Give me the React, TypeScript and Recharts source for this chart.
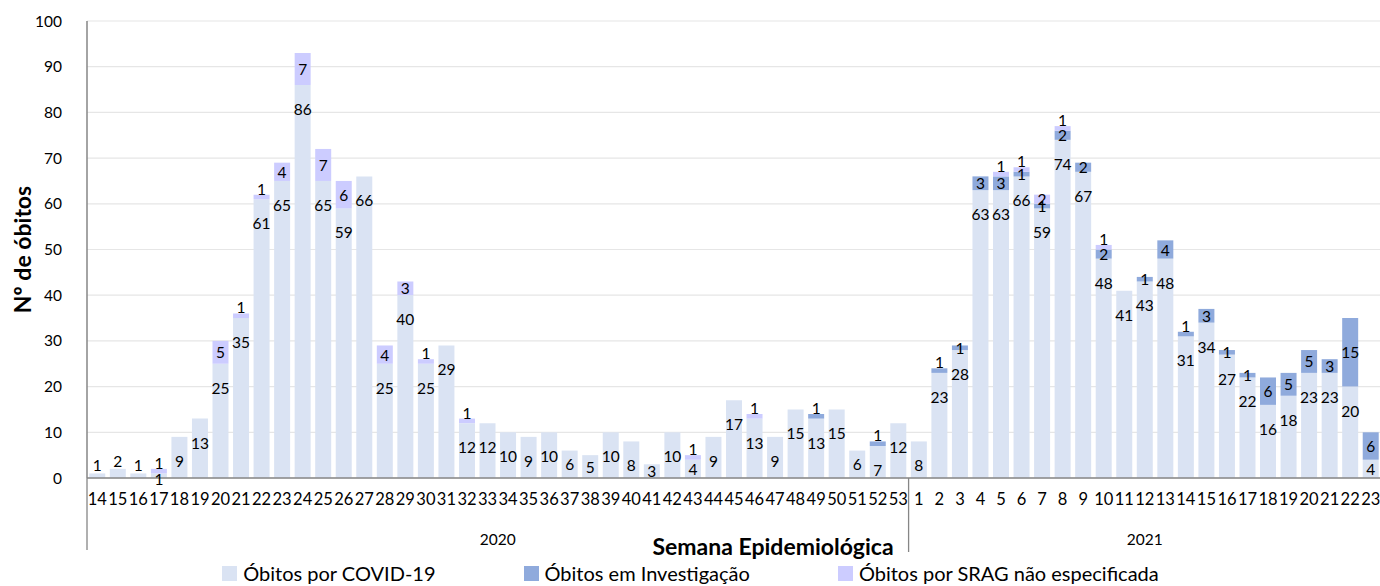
import React from "react";
import {
  BarChart,
  Bar,
  XAxis,
  YAxis,
  CartesianGrid,
  Legend,
  LabelList,
} from "recharts";

// semanas epidemiológicas
const weeks2020 = [
  "14", "15", "16", "17", "18", "19", "20", "21", "22", "23",
  "24", "25", "26", "27", "28", "29", "30", "31", "32", "33",
  "34", "35", "36", "37", "38", "39", "40", "41", "42", "43",
  "44", "45", "46", "47", "48", "49", "50", "51", "52", "53",
];
const weeks2021 = [
  "1", "2", "3", "4", "5", "6", "7", "8", "9", "10", "11", "12",
  "13", "14", "15", "16", "17", "18", "19", "20", "21", "22", "23",
];

const covid2020 = [
  1, 2, 1, 1, 9, 13, 25, 35, 61, 65, 86, 65, 59, 66, 25, 40, 25, 29, 12, 12,
  10, 9, 10, 6, 5, 10, 8, 3, 10, 4, 9, 17, 13, 9, 15, 13, 15, 6, 7, 12,
];
const invest2020 = [
  0, 0, 0, 0, 0, 0, 0, 0, 0, 0, 0, 0, 0, 0, 0, 0, 0, 0, 0, 0,
  0, 0, 0, 0, 0, 0, 0, 0, 0, 0, 0, 0, 0, 0, 0, 1, 0, 0, 1, 0,
];
const srag2020 = [
  0, 0, 0, 1, 0, 0, 5, 1, 1, 4, 7, 7, 6, 0, 4, 3, 1, 0, 1, 0,
  0, 0, 0, 0, 0, 0, 0, 0, 0, 1, 0, 0, 1, 0, 0, 0, 0, 0, 0, 0,
];

const covid2021 = [
  8, 23, 28, 63, 63, 66, 59, 74, 67, 48, 41, 43, 48, 31, 34, 27, 22, 16, 18,
  23, 23, 20, 4,
];
const invest2021 = [
  0, 1, 1, 3, 3, 1, 1, 2, 2, 2, 0, 1, 4, 1, 3, 1, 1, 6, 5, 5, 3, 15, 6,
];
const srag2021 = [
  0, 0, 0, 0, 1, 1, 2, 1, 0, 1, 0, 0, 0, 0, 0, 0, 0, 0, 0, 0, 0, 0, 0,
];

const yTicks = [0, 10, 20, 30, 40, 50, 60, 70, 80, 90, 100];

const weeks = [...weeks2020, ...weeks2021];
const covid = [...covid2020, ...covid2021];
const invest = [...invest2020, ...invest2021];
const srag = [...srag2020, ...srag2021];

const data = weeks.map((w, i) => ({
  key: `${i < weeks2020.length ? 2020 : 2021}-${w}`,
  covid: covid[i],
  invest: invest[i],
  srag: srag[i],
}));

const FONT = "Lato, 'Open Sans', sans-serif";
const C_COVID = "#DAE3F3";
const C_INV = "#8FAADC";
const C_SRAG = "#CCCCFF";
const AXIS = "#868686";

const CHART_W = 1381;
const CHART_H = 586;
const Y_W = 87;
const STEP = (CHART_W - Y_W) / weeks.length;

const labelText = (x: number, y: number, v: any) => (
  <text
    x={x}
    y={y}
    textAnchor="middle"
    dominantBaseline="central"
    fontFamily={FONT}
    fontSize={15.5}
    fill="#000"
  >
    {v}
  </text>
);

const box = (p: any) => {
  const vb = p.viewBox || {};
  return {
    x: p.x ?? vb.x,
    y: p.y ?? vb.y,
    w: p.width ?? vb.width,
    h: p.height ?? vb.height,
  };
};

const CovidLabel = (p: any) => {
  const { x, y, w, h } = box(p);
  const i = p.index;
  if (!p.value) return null;
  const cx = x + w / 2;
  const hasAbove = invest[i] + srag[i] > 0;
  let cy;
  // barras muito baixas: rótulo acima (ou sobre o eixo, se há outra série em cima)
  if (h < 12) cy = hasAbove ? y + h + 1 : y - 8;
  else if (h < 30) cy = y + h / 2;
  else cy = y + 24;
  return labelText(cx, cy, p.value);
};

const makeTopLabel = (isTop: (i: number) => boolean) => (p: any) => {
  const { x, y, w, h } = box(p);
  if (!p.value) return null;
  const cx = x + w / 2;
  const cy = p.value === 1 && isTop(p.index) ? y - 6 : y + h / 2;
  return labelText(cx, cy, p.value);
};

const InvLabel = makeTopLabel((i) => !srag[i]);
const SragLabel = makeTopLabel(() => true);

const WeekTick = (p: any) => {
  const { x, y, payload } = p;
  const i = payload.index;
  return (
    <g>
      <text
        x={x}
        y={y + 21}
        textAnchor="middle"
        dominantBaseline="central"
        fontFamily={FONT}
        fontSize={16.5}
        fill="#000"
      >
        {weeks[i]}
      </text>
      {i === 0 && (
        <line x1={x - STEP / 2} x2={x - STEP / 2} y1={y} y2={y + 72} stroke={AXIS} strokeWidth={1.3} />
      )}
      {i === weeks2020.length - 1 && (
        <line x1={x + STEP / 2} x2={x + STEP / 2} y1={y} y2={y + 74} stroke={AXIS} strokeWidth={1.3} />
      )}
      {i === weeks2020.length / 2 - 1 && (
        <text x={x + STEP / 2} y={y + 61} textAnchor="middle" dominantBaseline="central" fontFamily={FONT} fontSize={15.5} fill="#000">
          2020
        </text>
      )}
      {i === weeks2020.length + Math.floor(weeks2021.length / 2) && (
        <text x={x} y={y + 61} textAnchor="middle" dominantBaseline="central" fontFamily={FONT} fontSize={15.5} fill="#000">
          2021
        </text>
      )}
    </g>
  );
};

const legendItems = [
  { name: "Óbitos por COVID-19", color: C_COVID },
  { name: "Óbitos em Investigação", color: C_INV },
  { name: "Óbitos por SRAG não especificada", color: C_SRAG },
];

const ChartLegend = () => (
  <div
    style={{
      height: 26,
      display: "flex",
      justifyContent: "center",
      alignItems: "center",
      fontFamily: FONT,
      fontSize: 20,
      color: "#000",
      gap: 88,
    }}
  >
    {legendItems.map((it) => (
      <div key={it.name} style={{ display: "flex", alignItems: "center" }}>
        <span style={{ width: 15, height: 15, background: it.color, marginRight: 6 }} />
        {it.name}
      </div>
    ))}
  </div>
);

export default function App() {
  return (
    <div style={{ position: "absolute", left: 0, top: 0, width: 1380, height: CHART_H, overflow: "hidden", background: "#fff" }}>
      <BarChart
        width={CHART_W}
        height={CHART_H}
        data={data}
        margin={{ top: 21, right: 0, bottom: 0, left: 0 }}
        barCategoryGap="11%"
      >
        <CartesianGrid vertical={false} stroke="#e6e6e6" strokeWidth={1.2} />
        <XAxis
          dataKey="key"
          interval={0}
          height={82}
          tickSize={0}
          tickMargin={0}
          tick={<WeekTick />}
          axisLine={{ stroke: AXIS, strokeWidth: 1.5 }}
          label={{
            content: (lp: any) => {
              const vb = lp.viewBox;
              return (
                <text
                  x={vb.x + vb.width / 2 + 39}
                  y={vb.y + 77}
                  textAnchor="middle"
                  fontFamily={FONT}
                  fontWeight="bold"
                  fontSize={23}
                  fill="#000"
                >
                  Semana Epidemiológica
                </text>
              );
            },
          }}
        />
        <YAxis
          width={Y_W}
          domain={[0, 100]}
          ticks={yTicks}
          tickSize={0}
          tickMargin={25}
          axisLine={{ stroke: AXIS, strokeWidth: 1.5 }}
          tick={{ fontFamily: FONT, fontSize: 15.5, fill: "#000" }}
          label={{
            content: (lp: any) => {
              const vb = lp.viewBox;
              const cy = vb.y + vb.height / 2;
              return (
                <text
                  x={22}
                  y={cy}
                  transform={`rotate(-90, 22, ${cy})`}
                  textAnchor="middle"
                  dominantBaseline="central"
                  fontFamily={FONT}
                  fontWeight="bold"
                  fontSize={23}
                  fill="#000"
                >
                  Nº de óbitos
                </text>
              );
            },
          }}
        />
        <Legend verticalAlign="bottom" height={26} content={<ChartLegend />} />
        <Bar dataKey="covid" name="Óbitos por COVID-19" stackId="a" fill={C_COVID} isAnimationActive={false}>
          <LabelList dataKey="covid" content={CovidLabel} />
        </Bar>
        <Bar dataKey="invest" name="Óbitos em Investigação" stackId="a" fill={C_INV} isAnimationActive={false}>
          <LabelList dataKey="invest" content={InvLabel} />
        </Bar>
        <Bar dataKey="srag" name="Óbitos por SRAG não especificada" stackId="a" fill={C_SRAG} isAnimationActive={false}>
          <LabelList dataKey="srag" content={SragLabel} />
        </Bar>
      </BarChart>
    </div>
  );
}
